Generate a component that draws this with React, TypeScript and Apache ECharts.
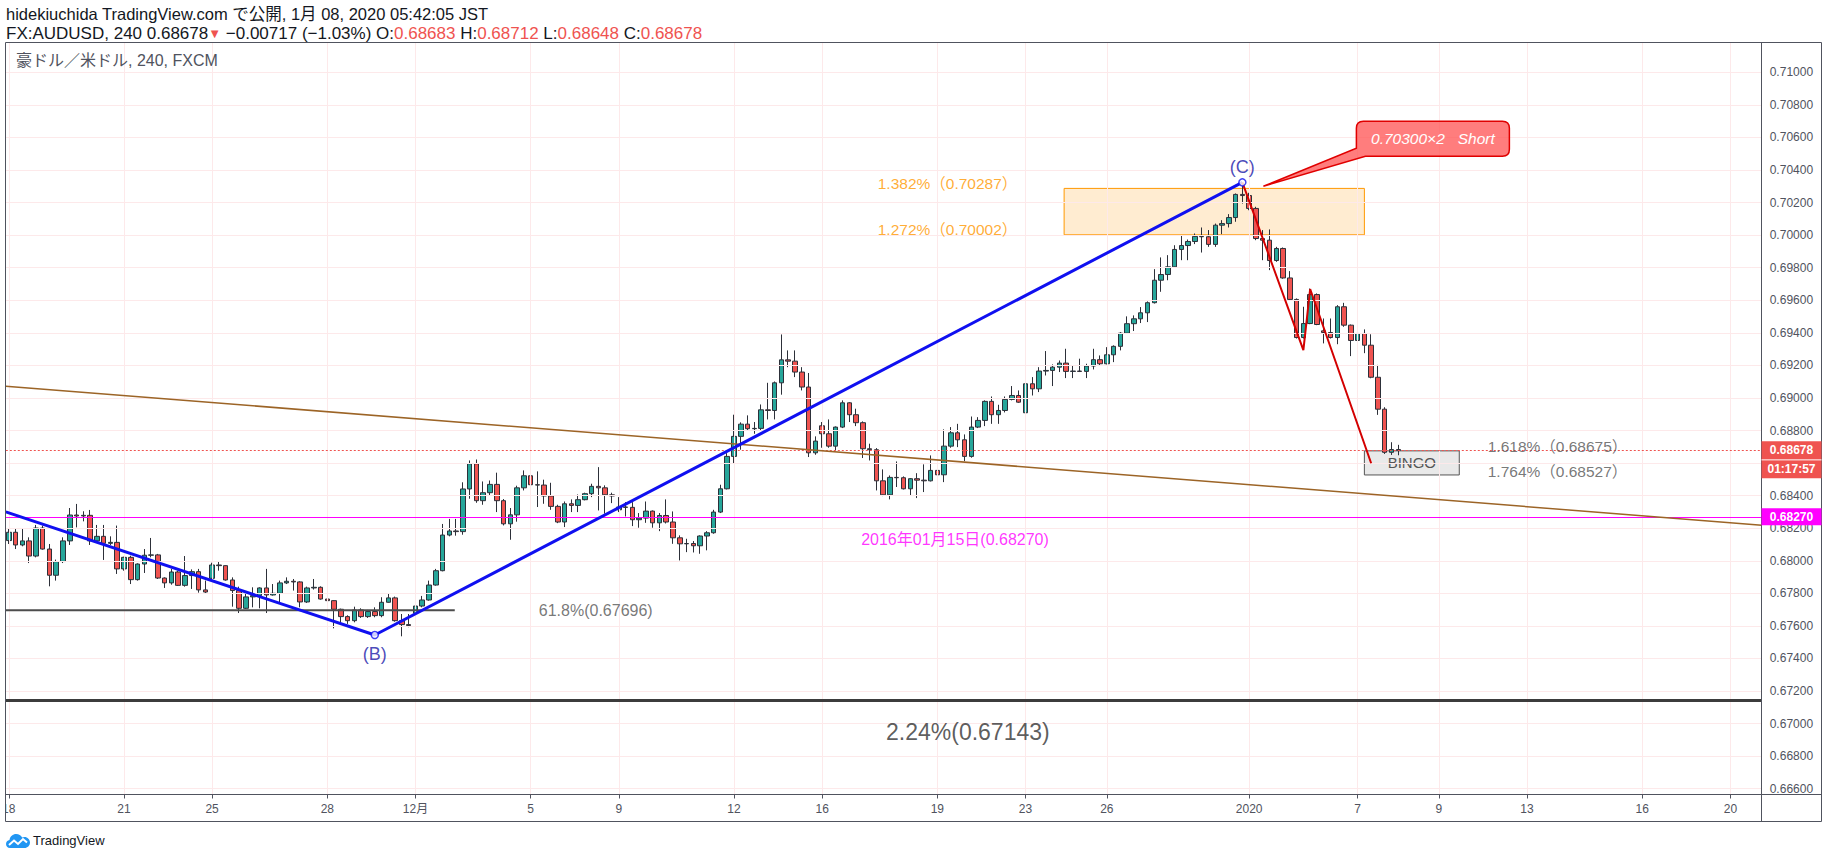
import React, { useEffect, useRef } from 'react';
import * as echarts from 'echarts';

const FONT = "'Liberation Sans', 'Noto Sans CJK JP', sans-serif";

// AUD/USD 4-hour bars (FXCM), bar 0 = 18 Nov 2019 07:00 JST … last bar = 8 Jan 2020 03:00 JST
const opens = [
  0.68124, 0.68175, 0.68097, 0.68122, 0.68029, 0.68201, 0.68072, 0.67911, 0.67995, 0.68122,
  0.68281, 0.68275, 0.68279, 0.68122, 0.68150, 0.68107, 0.68113, 0.67950, 0.68021, 0.67884,
  0.67980, 0.68034, 0.68036, 0.67894, 0.67864, 0.67931, 0.67849, 0.67909, 0.67933, 0.67821,
  0.67892, 0.67974, 0.67970, 0.67882, 0.67817, 0.67708, 0.67778, 0.67786, 0.67833, 0.67790,
  0.67800, 0.67864, 0.67874, 0.67870, 0.67747, 0.67833, 0.67837, 0.67765, 0.67755, 0.67702,
  0.67657, 0.67632, 0.67698, 0.67657, 0.67688, 0.67663, 0.67745, 0.67772, 0.67632, 0.67608,
  0.67677, 0.67722, 0.67759, 0.67851, 0.67939, 0.68158, 0.68183, 0.68179, 0.68441, 0.68596,
  0.68369, 0.68418, 0.68469, 0.68369, 0.68227, 0.68282, 0.68448, 0.68522, 0.68467, 0.68465,
  0.68398, 0.68334, 0.68238, 0.68350, 0.68340, 0.68375, 0.68412, 0.68457, 0.68448, 0.68405,
  0.68313, 0.68330, 0.68328, 0.68252, 0.68262, 0.68305, 0.68233, 0.68278, 0.68238, 0.68141,
  0.68104, 0.68106, 0.68092, 0.68152, 0.68172, 0.68299, 0.68442, 0.68641, 0.68764, 0.68839,
  0.68811, 0.68813, 0.68927, 0.68923, 0.69093, 0.69234, 0.69226, 0.69159, 0.69067, 0.68663,
  0.68829, 0.68780, 0.68704, 0.68821, 0.68970, 0.68897, 0.68848, 0.68688, 0.68682, 0.68491,
  0.68405, 0.68512, 0.68510, 0.68442, 0.68504, 0.68495, 0.68491, 0.68555, 0.68528, 0.68704,
  0.68786, 0.68743, 0.68641, 0.68821, 0.68862, 0.68979, 0.68897, 0.68923, 0.68991, 0.69015,
  0.68909, 0.69087, 0.69056, 0.69165, 0.69169, 0.69189, 0.69214, 0.69163, 0.69165, 0.69163,
  0.69196, 0.69235, 0.69210, 0.69265, 0.69317, 0.69398, 0.69456, 0.69486, 0.69523, 0.69585,
  0.69723, 0.69758, 0.69805, 0.69912, 0.69936, 0.69961, 0.69992, 0.69990, 0.69943, 0.70061,
  0.70071, 0.70108, 0.70250, 0.70243, 0.70164, 0.69979, 0.69969, 0.69844, 0.69918, 0.69737,
  0.69605, 0.69371, 0.69457, 0.69635, 0.69412, 0.69402, 0.69371, 0.69560, 0.69447, 0.69353,
  0.69396, 0.69324, 0.69127, 0.68931, 0.68666, 0.68683,
];
const highs = [
  0.68195, 0.68195, 0.68195, 0.68144, 0.68220, 0.68216, 0.68103, 0.68007, 0.68144, 0.68324,
  0.68349, 0.68304, 0.68312, 0.68220, 0.68220, 0.68150, 0.68216, 0.68025, 0.68031, 0.67984,
  0.68072, 0.68140, 0.68042, 0.67898, 0.67950, 0.67939, 0.68029, 0.67947, 0.67950, 0.67878,
  0.67988, 0.67995, 0.67972, 0.67898, 0.67841, 0.67796, 0.67837, 0.67837, 0.67950, 0.67857,
  0.67878, 0.67898, 0.67888, 0.67874, 0.67841, 0.67888, 0.67843, 0.67796, 0.67757, 0.67706,
  0.67665, 0.67718, 0.67708, 0.67698, 0.67714, 0.67776, 0.67796, 0.67780, 0.67673, 0.67673,
  0.67751, 0.67784, 0.67878, 0.67950, 0.68226, 0.68257, 0.68257, 0.68482, 0.68616, 0.68622,
  0.68487, 0.68493, 0.68541, 0.68379, 0.68324, 0.68461, 0.68555, 0.68534, 0.68549, 0.68498,
  0.68479, 0.68344, 0.68364, 0.68377, 0.68407, 0.68418, 0.68473, 0.68575, 0.68463, 0.68418,
  0.68391, 0.68360, 0.68360, 0.68293, 0.68364, 0.68309, 0.68293, 0.68377, 0.68303, 0.68156,
  0.68135, 0.68121, 0.68156, 0.68182, 0.68313, 0.68467, 0.68661, 0.68897, 0.68850, 0.68893,
  0.68852, 0.68960, 0.69093, 0.69101, 0.69390, 0.69292, 0.69292, 0.69189, 0.69153, 0.68764,
  0.68852, 0.68868, 0.68825, 0.68985, 0.68974, 0.68934, 0.68856, 0.68719, 0.68692, 0.68561,
  0.68524, 0.68610, 0.68518, 0.68508, 0.68538, 0.68592, 0.68647, 0.68565, 0.68807, 0.68821,
  0.68841, 0.68776, 0.68886, 0.68882, 0.68985, 0.69009, 0.68958, 0.69009, 0.69073, 0.69046,
  0.69112, 0.69128, 0.69189, 0.69288, 0.69206, 0.69230, 0.69302, 0.69200, 0.69241, 0.69210,
  0.69302, 0.69261, 0.69312, 0.69323, 0.69404, 0.69501, 0.69507, 0.69558, 0.69593, 0.69791,
  0.69863, 0.69877, 0.69938, 0.70000, 0.69973, 0.70010, 0.70047, 0.70031, 0.70071, 0.70092,
  0.70129, 0.70256, 0.70318, 0.70260, 0.70174, 0.70031, 0.70035, 0.69928, 0.69924, 0.69779,
  0.69611, 0.69560, 0.69672, 0.69642, 0.69488, 0.69488, 0.69570, 0.69584, 0.69451, 0.69406,
  0.69421, 0.69391, 0.69203, 0.68943, 0.68728, 0.68712,
];
const lows = [
  0.68103, 0.68072, 0.68089, 0.67986, 0.68021, 0.68068, 0.67843, 0.67878, 0.67986, 0.68097,
  0.68205, 0.68242, 0.68097, 0.68115, 0.68005, 0.68097, 0.67919, 0.67939, 0.67857, 0.67878,
  0.67925, 0.68021, 0.67888, 0.67833, 0.67853, 0.67845, 0.67841, 0.67827, 0.67804, 0.67802,
  0.67886, 0.67939, 0.67878, 0.67718, 0.67679, 0.67704, 0.67714, 0.67708, 0.67679, 0.67786,
  0.67745, 0.67857, 0.67817, 0.67714, 0.67741, 0.67823, 0.67761, 0.67747, 0.67585, 0.67616,
  0.67612, 0.67622, 0.67649, 0.67649, 0.67653, 0.67653, 0.67743, 0.67626, 0.67536, 0.67592,
  0.67612, 0.67714, 0.67755, 0.67847, 0.67935, 0.68150, 0.68154, 0.68160, 0.68381, 0.68356,
  0.68344, 0.68401, 0.68299, 0.68217, 0.68129, 0.68240, 0.68432, 0.68463, 0.68330, 0.68350,
  0.68313, 0.68231, 0.68207, 0.68299, 0.68299, 0.68371, 0.68391, 0.68309, 0.68289, 0.68354,
  0.68299, 0.68272, 0.68213, 0.68203, 0.68233, 0.68203, 0.68182, 0.68229, 0.68104, 0.68002,
  0.68053, 0.68051, 0.68043, 0.68064, 0.68166, 0.68293, 0.68438, 0.68600, 0.68682, 0.68801,
  0.68780, 0.68801, 0.68868, 0.68868, 0.69020, 0.69189, 0.69128, 0.69046, 0.68637, 0.68651,
  0.68694, 0.68694, 0.68678, 0.68815, 0.68852, 0.68827, 0.68631, 0.68616, 0.68432, 0.68397,
  0.68377, 0.68453, 0.68438, 0.68401, 0.68385, 0.68422, 0.68487, 0.68502, 0.68483, 0.68694,
  0.68698, 0.68612, 0.68633, 0.68815, 0.68827, 0.68841, 0.68841, 0.68911, 0.68985, 0.68970,
  0.68903, 0.69015, 0.69036, 0.69138, 0.69073, 0.69159, 0.69122, 0.69122, 0.69159, 0.69122,
  0.69175, 0.69196, 0.69206, 0.69220, 0.69292, 0.69394, 0.69411, 0.69460, 0.69466, 0.69580,
  0.69652, 0.69723, 0.69801, 0.69846, 0.69846, 0.69945, 0.69893, 0.69928, 0.69928, 0.70006,
  0.70047, 0.70082, 0.70194, 0.70153, 0.69969, 0.69846, 0.69785, 0.69836, 0.69732, 0.69601,
  0.69365, 0.69365, 0.69453, 0.69447, 0.69335, 0.69365, 0.69330, 0.69437, 0.69257, 0.69320,
  0.69275, 0.69121, 0.68896, 0.68656, 0.68650, 0.68648,
];
const closes = [
  0.68175, 0.68097, 0.68122, 0.68029, 0.68201, 0.68072, 0.67911, 0.67995, 0.68122, 0.68281,
  0.68275, 0.68279, 0.68122, 0.68150, 0.68107, 0.68113, 0.67950, 0.68021, 0.67884, 0.67980,
  0.68034, 0.68036, 0.67894, 0.67864, 0.67931, 0.67849, 0.67909, 0.67933, 0.67821, 0.67808,
  0.67974, 0.67970, 0.67882, 0.67817, 0.67708, 0.67778, 0.67786, 0.67833, 0.67790, 0.67800,
  0.67864, 0.67874, 0.67870, 0.67747, 0.67833, 0.67837, 0.67765, 0.67755, 0.67702, 0.67657,
  0.67632, 0.67698, 0.67657, 0.67688, 0.67663, 0.67745, 0.67772, 0.67632, 0.67608, 0.67602,
  0.67722, 0.67759, 0.67851, 0.67939, 0.68158, 0.68183, 0.68179, 0.68441, 0.68596, 0.68369,
  0.68418, 0.68469, 0.68369, 0.68227, 0.68282, 0.68448, 0.68522, 0.68467, 0.68465, 0.68398,
  0.68334, 0.68238, 0.68350, 0.68340, 0.68375, 0.68412, 0.68457, 0.68448, 0.68405, 0.68398,
  0.68330, 0.68328, 0.68252, 0.68262, 0.68305, 0.68233, 0.68278, 0.68238, 0.68141, 0.68104,
  0.68106, 0.68092, 0.68152, 0.68172, 0.68299, 0.68442, 0.68641, 0.68764, 0.68839, 0.68811,
  0.68813, 0.68927, 0.68923, 0.69093, 0.69234, 0.69226, 0.69159, 0.69067, 0.68663, 0.68735,
  0.68780, 0.68704, 0.68821, 0.68970, 0.68897, 0.68848, 0.68688, 0.68682, 0.68491, 0.68405,
  0.68512, 0.68510, 0.68442, 0.68504, 0.68495, 0.68491, 0.68555, 0.68528, 0.68704, 0.68786,
  0.68743, 0.68641, 0.68821, 0.68862, 0.68979, 0.68897, 0.68923, 0.68991, 0.69015, 0.68974,
  0.69087, 0.69056, 0.69165, 0.69169, 0.69189, 0.69214, 0.69163, 0.69165, 0.69163, 0.69196,
  0.69235, 0.69210, 0.69265, 0.69317, 0.69398, 0.69456, 0.69486, 0.69523, 0.69585, 0.69723,
  0.69758, 0.69805, 0.69912, 0.69936, 0.69961, 0.69992, 0.69990, 0.69943, 0.70061, 0.70071,
  0.70108, 0.70250, 0.70243, 0.70164, 0.69979, 0.69969, 0.69844, 0.69918, 0.69737, 0.69605,
  0.69371, 0.69457, 0.69635, 0.69451, 0.69402, 0.69371, 0.69560, 0.69447, 0.69353, 0.69396,
  0.69324, 0.69127, 0.68931, 0.68666, 0.68683, 0.68678,
];

// time scale: bar index of each day mark and its label
const tickIdx = [0, 17, 30, 47, 60, 77, 90, 107, 120, 137, 150, 162, 183, 199, 211, 224, 241, 254];
const tickText = ['18', '21', '25', '28', '12月', '5', '9', '12', '16', '19', '23', '26', '2020', '7', '9', '13', '16', '20'];

// price scale marks
const priceTicks = [
  0.666, 0.668, 0.670, 0.672, 0.674, 0.676, 0.678, 0.680, 0.682, 0.684, 0.686, 0.688,
  0.690, 0.692, 0.694, 0.696, 0.698, 0.700, 0.702, 0.704, 0.706, 0.708, 0.710,
];

// visible window of the price pane
const X_MIN = -0.44;
const X_MAX = 258.62;
const Y_MIN = 0.665644;
const Y_MAX = 0.7118;

// wave (B) → (C)
const waveIdx = [-0.44, 54, 182];
const wavePrice = [0.683, 0.67544, 0.70324];
// decline drawn from (C)
const dropIdx = [182, 191, 192, 201];
const dropPrice = [0.70324, 0.69294, 0.69669, 0.68599];
// long descending trend line
const trendIdx = [-0.44, 258.62];
const trendPrice = [0.69072, 0.68218];
// 61.8% retracement segment
const retraceIdx = [-0.44, 65.8];
const retraceLevel = 0.67696;

const lowLevel = 0.67143; // 2.24%
const histLevel = 0.6827; // 2016-01-15 low
const dayChange = '−0.00717 (−1.03%)';
const countdown = '01:17:57';

// trend-based fib extension
const fibNames = ['1.382%', '1.272%'];
const fibLevels = [0.70287, 0.70002];
const fibZoneIdx = [155.7, 200];
const targetNames = ['1.618%', '1.764%'];
const targetLevels = [0.68675, 0.68527];
const bingoIdx = [200, 214];

// short entry note
const shortEntry = 0.703;
const shortLots = 2;
const shortTipIdx = 185.1;

const UP = '#26a69a';
const DOWN = '#ef5350';
const WICK = '#2d3039';
const AXIS_TEXT = '#50535e';
const FRAME = '#50535e';
const GRID = '#fde9ea';
const BLUE = '#1010f0';

// callout outline, tip at the origin
echarts.graphic.registerShape(
  'callout',
  echarts.graphic.extendPath(
    'M0 0 L93 -38 L93 -58 Q93 -65 100 -65 L239 -65 Q246 -65 246 -58 L246 -37 Q246 -30 239 -30 L102 -30 Z',
    {}
  )
);
// TradingView cloud mark
echarts.graphic.registerShape(
  'tvcloud',
  echarts.graphic.extendPath(
    'M4 16 C1.5 16 0 14.2 0 12 C0 9.9 1.5 8.3 3.5 8 C4 4.5 6.8 2 10.2 2 C12.8 2 15 3.4 16.1 5.6 C16.8 5.2 17.6 5 18.5 5 C21.5 5 24 7.5 24 10.5 C24 13.5 21.5 16 18.5 16 Z',
    {}
  )
);

const note = (x: number, y: number, text: string, label: any) => ({
  value: [x, y],
  label: { show: true, formatter: () => text, fontFamily: FONT, ...label },
});

function buildOption(): any {
  const candles = opens.map((o, i) => [i, o, closes[i], lows[i], highs[i]]);
  const last = closes.length - 1;
  const hidden = { data: [[0, closes[last]]], symbol: 'none', lineStyle: { opacity: 0 }, silent: true };

  const notes = [
    note(128.2, fibLevels[0], `${fibNames[0]}（${fibLevels[0].toFixed(5)}）`, { position: 'right', distance: 0, offset: [0, -5], color: '#ff9800', fontSize: 15.5 }),
    note(128.2, fibLevels[1], `${fibNames[1]}（${fibLevels[1].toFixed(5)}）`, { position: 'right', distance: 0, offset: [0, -5], color: '#ff9800', fontSize: 15.5 }),
    note(218.2, targetLevels[0], `${targetNames[0]}（${targetLevels[0].toFixed(5)}）`, { position: 'right', distance: 0, offset: [0, -4], color: '#555555', fontSize: 15.5 }),
    note(218.2, targetLevels[1], `${targetNames[1]}（${targetLevels[1].toFixed(5)}）`, { position: 'right', distance: 0, offset: [0, -3], color: '#555555', fontSize: 15.5 }),
    note(78.2, retraceLevel, `61.8%(${retraceLevel.toFixed(5)})`, { position: 'right', distance: 0, color: '#555555', fontSize: 16 }),
    note(141.5, lowLevel, `2.24%(${lowLevel.toFixed(5)})`, { position: 'inside', offset: [0, 32], color: '#333333', fontSize: 23 }),
    note(139.6, histLevel, `2016年01月15日(${histLevel.toFixed(5)})`, { position: 'inside', offset: [0, 23], color: '#ff00ff', fontSize: 16 }),
  ];

  // price marks hidden under the last-price badge
  const priceLabel = (v: number) => (Math.abs(v - closes[last]) < 0.0011 ? '' : v.toFixed(5));

  return {
    animation: false,
    backgroundColor: '#ffffff',
    textStyle: { fontFamily: FONT },
    grid: { left: 5.8, right: 66.3, top: 43, bottom: 64.5, containLabel: false, outerBoundsMode: 'none' },
    xAxis: {
      type: 'value',
      min: X_MIN,
      max: X_MAX,
      axisLine: { show: false },
      splitLine: { show: false },
      axisTick: { show: true, inside: false, length: 4, customValues: tickIdx, lineStyle: { color: AXIS_TEXT } },
      axisLabel: {
        customValues: tickIdx,
        margin: 8,
        fontSize: 12,
        color: AXIS_TEXT,
        fontFamily: FONT,
        formatter: (v: number) => {
          const k = tickIdx.indexOf(Math.round(v));
          return k >= 0 ? tickText[k] : '';
        },
      },
    },
    yAxis: {
      type: 'value',
      position: 'right',
      min: Y_MIN,
      max: Y_MAX,
      axisLine: { show: false },
      splitLine: { show: false },
      axisTick: { show: true, inside: false, length: 4, customValues: priceTicks, lineStyle: { color: AXIS_TEXT } },
      axisLabel: {
        customValues: priceTicks,
        margin: 8,
        fontSize: 12,
        color: AXIS_TEXT,
        fontFamily: FONT,
        formatter: priceLabel,
      },
    },
    series: [
      // grid lines at every scale mark
      {
        type: 'line',
        z: 1,
        ...hidden,
        markLine: {
          silent: true,
          precision: 6,
          symbol: ['none', 'none'],
          label: { show: false },
          emphasis: { disabled: true },
          lineStyle: { color: GRID, width: 1, type: 'solid' },
          data: [...priceTicks.map((v) => ({ yAxis: v })), ...tickIdx.map((v) => ({ xAxis: v }))],
        },
      },
      {
        type: 'candlestick',
        z: 2,
        silent: true,
        barWidth: 5,
        data: candles,
        itemStyle: {
          color: UP,
          color0: DOWN,
          borderColor: WICK,
          borderColor0: WICK,
          borderColorDoji: WICK,
          borderWidth: 1,
        },
      },
      // fib zone and target box
      {
        type: 'line',
        z: 3,
        ...hidden,
        markArea: {
          silent: true,
          label: { show: false },
          data: [
            [
              {
                xAxis: fibZoneIdx[0],
                yAxis: fibLevels[0],
                itemStyle: { color: 'rgba(255,152,0,0.18)', borderColor: '#ff9800', borderWidth: 1 },
              },
              { xAxis: fibZoneIdx[1], yAxis: fibLevels[1] },
            ],
            [
              {
                name: 'BINGO',
                xAxis: bingoIdx[0],
                yAxis: targetLevels[0],
                itemStyle: { color: 'rgba(215,215,215,0.55)', borderColor: '#555555', borderWidth: 1 },
                label: { show: true, position: 'inside', color: '#555555', fontSize: 15, fontFamily: FONT, formatter: 'BINGO' },
              },
              { xAxis: bingoIdx[1], yAxis: targetLevels[1] },
            ],
          ],
        },
      },
      // full-width horizontal levels
      {
        type: 'line',
        z: 4,
        ...hidden,
        markLine: {
          silent: true,
          precision: 6,
          symbol: ['none', 'none'],
          label: { show: false },
          emphasis: { disabled: true },
          data: [
            { yAxis: histLevel, lineStyle: { color: '#ff00ff', width: 1, type: 'solid' } },
            { yAxis: lowLevel, lineStyle: { color: '#3c3c3c', width: 3, type: 'solid' } },
            { yAxis: closes[last], lineStyle: { color: DOWN, width: 1, type: [2, 2] } },
          ],
        },
      },
      {
        type: 'line',
        z: 5,
        silent: true,
        symbol: 'none',
        data: trendIdx.map((x, i) => [x, trendPrice[i]]),
        lineStyle: { color: '#9c6426', width: 1.5 },
      },
      {
        type: 'line',
        z: 5,
        silent: true,
        symbol: 'none',
        data: retraceIdx.map((x) => [x, retraceLevel]),
        lineStyle: { color: '#4d4d4d', width: 2 },
      },
      {
        type: 'line',
        z: 6,
        silent: true,
        symbol: 'none',
        data: waveIdx.map((x, i) => [x, wavePrice[i]]),
        lineStyle: { color: BLUE, width: 3 },
      },
      {
        type: 'line',
        z: 6,
        silent: true,
        symbol: 'none',
        data: dropIdx.map((x, i) => [x, dropPrice[i]]),
        lineStyle: { color: '#d30000', width: 2 },
      },
      // wave pivots
      {
        type: 'scatter',
        z: 7,
        silent: true,
        symbol: 'circle',
        symbolSize: 7,
        itemStyle: { color: '#ffffff', borderColor: BLUE, borderWidth: 1.5 },
        label: { show: true, color: '#1a1aa8', fontSize: 18, fontFamily: FONT },
        data: [
          { value: [waveIdx[1], wavePrice[1]], label: { formatter: '(B)', position: 'bottom', distance: 6 } },
          { value: [waveIdx[2], wavePrice[2]], label: { formatter: '(C)', position: 'top', distance: 2 } },
        ],
      },
      // level captions
      {
        type: 'scatter',
        z: 8,
        silent: true,
        symbolSize: 0,
        itemStyle: { color: 'transparent' },
        data: notes,
      },
    ],
  };
}

function buildOverlay(chart: any): any[] {
  const yAt = (v: number) => chart.convertToPixel({ yAxisIndex: 0 }, v) as number;
  const ptAt = (i: number, v: number) => chart.convertToPixel({ gridIndex: 0 }, [i, v]) as number[];
  const last = closes.length - 1;
  const txt = (x: number, y: number, text: string, style: any, z = 110) => ({
    type: 'text',
    x,
    y,
    z,
    silent: true,
    style: { text, fontFamily: FONT, verticalAlign: 'middle', textVerticalAlign: 'middle', ...style },
  });

  const yLast = yAt(closes[last]);
  const yHist = yAt(histLevel);
  const tip = ptAt(shortTipIdx, shortEntry);
  const ohlc =
    `FX:AUDUSD, 240 ${closes[last].toFixed(5)}{d|▼} ${dayChange} ` +
    `O:{r|${opens[last].toFixed(5)}} H:{r|${highs[last].toFixed(5)}} L:{r|${lows[last].toFixed(5)}} C:{r|${closes[last].toFixed(5)}}`;

  return [
    // hides the part of the first day mark that falls left of the pane
    { type: 'rect', z: 100, silent: true, shape: { x: 0, y: 795, width: 5.5, height: 28 }, style: { fill: '#ffffff' } },
    // pane frame
    { type: 'rect', z: 105, silent: true, shape: { x: 5.5, y: 42.5, width: 1816, height: 779 }, style: { fill: 'none', stroke: FRAME, lineWidth: 1 } },
    { type: 'line', z: 105, silent: true, shape: { x1: 1761.5, y1: 42.5, x2: 1761.5, y2: 821.5 }, style: { stroke: FRAME, lineWidth: 1 } },
    { type: 'line', z: 105, silent: true, shape: { x1: 5.5, y1: 794.5, x2: 1821.5, y2: 794.5 }, style: { stroke: FRAME, lineWidth: 1 } },

    // header
    txt(6, 14, 'hidekiuchida TradingView.com で公開, 1月 08, 2020 05:42:05 JST', { fill: '#131722', fontSize: 16.5 }),
    txt(6, 33, ohlc, {
      fill: '#131722',
      fontSize: 17,
      rich: { r: { fill: DOWN, color: DOWN, fontSize: 17 }, d: { fill: DOWN, color: DOWN, fontSize: 13 } },
    }),
    txt(16, 60, '豪ドル／米ドル, 240, FXCM', { fill: AXIS_TEXT, fontSize: 16 }),

    // last price + countdown badge
    { type: 'rect', z: 108, silent: true, shape: { x: 1761.5, y: yLast - 9, width: 60, height: 37 }, style: { fill: DOWN } },
    { type: 'line', z: 109, silent: true, shape: { x1: 1761.5, y1: yLast + 9.5, x2: 1821.5, y2: yLast + 9.5 }, style: { stroke: '#ffffff', lineWidth: 1 } },
    txt(1791.5, yLast, closes[last].toFixed(5), { fill: '#ffffff', fontSize: 12, fontWeight: 'bold', align: 'center', textAlign: 'center' }),
    txt(1791.5, yLast + 18.5, countdown, { fill: '#ffffff', fontSize: 12, fontWeight: 'bold', align: 'center', textAlign: 'center' }),

    // 2016 level badge
    { type: 'rect', z: 108, silent: true, shape: { x: 1761.5, y: yHist - 8.5, width: 60, height: 17 }, style: { fill: '#ff00ff' } },
    txt(1791.5, yHist, histLevel.toFixed(5), { fill: '#ffffff', fontSize: 12, fontWeight: 'bold', align: 'center', textAlign: 'center' }),

    // short-entry callout
    {
      type: 'callout',
      x: tip[0],
      y: tip[1],
      z: 108,
      silent: true,
      style: { fill: 'rgba(255,82,82,0.75)', stroke: '#e00000', lineWidth: 1.5 },
    },
    txt(tip[0] + 169.5, tip[1] - 47.5, `${shortEntry.toFixed(5)}×${shortLots}   Short`, {
      fill: '#ffffff',
      fontSize: 15.5,
      fontStyle: 'italic',
      align: 'center',
      textAlign: 'center',
    }),

    // brand mark
    { type: 'tvcloud', x: 6, y: 832, z: 110, silent: true, style: { fill: '#2196f3' } },
    {
      type: 'polyline',
      x: 6,
      y: 832,
      z: 111,
      silent: true,
      shape: { points: [[3, 13], [8, 8.5], [12, 12], [17, 7], [21, 10.5]] },
      style: { stroke: '#ffffff', lineWidth: 2, fill: null },
    },
    txt(33, 840, 'TradingView', { fill: '#131722', fontSize: 13 }),
  ];
}

export default function App() {
  const ref = useRef<HTMLDivElement>(null);
  useEffect(() => {
    if (!ref.current) return;
    const chart = echarts.init(ref.current, null, { renderer: 'svg' });
    chart.setOption(buildOption());
    chart.setOption({ graphic: { elements: buildOverlay(chart) } });
    return () => chart.dispose();
  }, []);
  return (
    <div
      ref={ref}
      style={{ position: 'fixed', left: 0, top: 0, width: 1828, height: 859, background: '#ffffff' }}
    />
  );
}
